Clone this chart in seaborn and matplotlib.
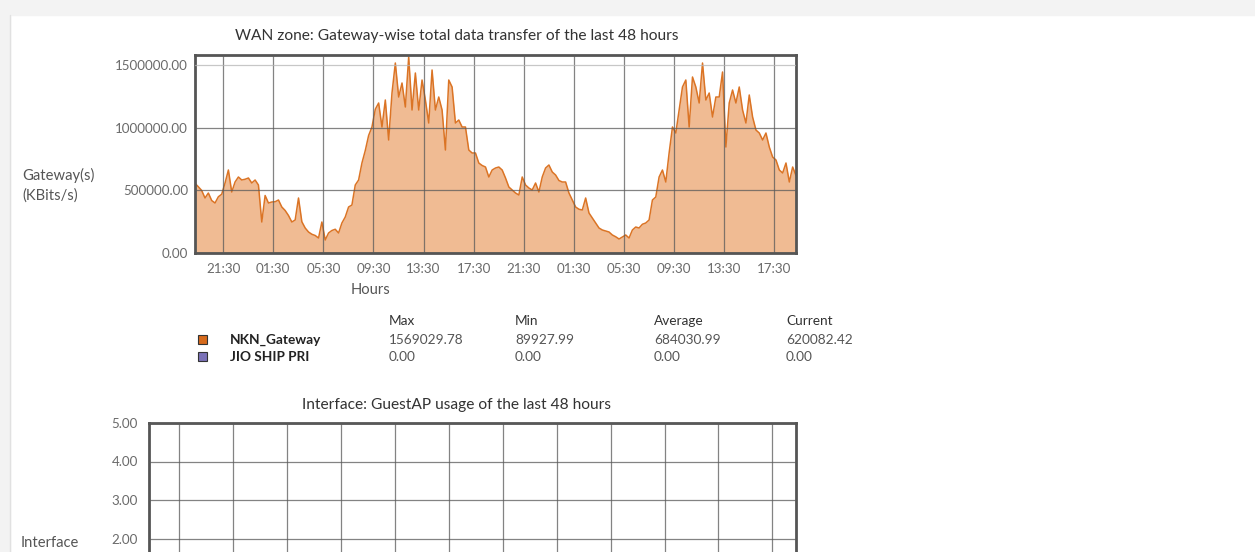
# WAN zone gateway traffic report - recreated with seaborn / matplotlib

import pandas as pd
import numpy as np
import seaborn as sns
from matplotlib import pyplot as plt
from matplotlib.patches import Rectangle
import matplotlib.dates as mdates

# data (KBits/s, in thousands), one sample every 16 minutes
start_time = "2024-01-01 19:15"
sample_freq = "16min"
nkn_kbits = [
    557, 530, 500, 440, 480, 420, 400, 450, 470, 560,
    664, 488, 568, 608, 584, 590, 600, 560, 584, 544,
    248, 460, 400, 408, 410, 424, 368, 340, 300, 248,
    264, 440, 250, 200, 168, 150, 140, 120, 248, 104,
    160, 180, 190, 160, 240, 288, 368, 384, 544, 584,
    720, 820, 940, 1008, 1150, 1200, 1008, 1224, 904, 1280,
    1520, 1248, 1360, 1168, 1568, 1144, 1440, 1144, 1384, 1224,
    1040, 1464, 1144, 1248, 1144, 824, 1384, 1328, 1040, 1064,
    1008, 1008, 824, 800, 800, 720, 700, 688, 608, 664,
    680, 688, 664, 600, 528, 504, 480, 464, 608, 544,
    520, 504, 560, 488, 608, 680, 704, 648, 624, 580,
    568, 568, 480, 424, 368, 350, 344, 440, 320, 280,
    240, 200, 184, 176, 168, 144, 130, 112, 128, 144,
    120, 184, 208, 200, 230, 240, 264, 424, 448, 608,
    664, 568, 800, 1008, 960, 1144, 1328, 1384, 1008, 1408,
    1328, 1200, 1520, 1224, 1280, 1088, 1248, 1248, 1448, 848,
    1200, 1304, 1200, 1328, 1144, 1040, 1264, 1088, 984, 960,
    904, 960, 848, 768, 744, 664, 640, 720, 568, 688,
    620,
]
hour_ticks_start = "2024-01-01 21:30"
n_hour_ticks = 12

wan_yticks = [0, 500000, 1000000, 1500000]
guest_yticks = [2, 3, 4, 5]   # lower ticks fall below the visible page

gateways = ["NKN_Gateway", "JIO SHIP PRI"]
gateway_colors = ["#d66a1c", "#7b72b8"]
stat_names = ["Max", "Min", "Average", "Current"]
stat_values = [
    [1569029.78, 89927.99, 684030.99, 620082.42],
    [0.00, 0.00, 0.00, 0.00],
]

times = pd.date_range(start_time, periods=len(nkn_kbits), freq=sample_freq)
df = pd.DataFrame({"time": times, "kbits": np.array(nkn_kbits) * 1000.0})
tick_times = pd.date_range(hour_ticks_start, periods=n_hour_ticks, freq="4h")

sns.set_style("white")
plt.rcParams["font.family"] = ["Lato", "DejaVu Sans"]

W, H = 1255, 552
fig = plt.figure(figsize=(W / 100, H / 100), dpi=100)
fig.patch.set_facecolor("white")


def px_axes(left, top, right, bottom):
    return fig.add_axes([left / W, 1 - bottom / H, (right - left) / W, (bottom - top) / H])


def fx(x):
    return x / W


def fy(y):
    return 1 - y / H


# page background bits (gray header band and left margin)
fig.patches.append(Rectangle((0, fy(15)), 1, 15 / H, transform=fig.transFigure,
                             color="#f3f3f3", zorder=0))
fig.patches.append(Rectangle((0, 0), fx(10), fy(15), transform=fig.transFigure,
                             color="#f3f3f3", zorder=0))
fig.add_artist(plt.Line2D([fx(10), fx(10)], [0, fy(15)], transform=fig.transFigure,
                          color="#e1e1e1", lw=1))

text_col = "#333333"
label_col = "#555555"
tick_col = "#6a6a6a"
grid_col = "#5a5a5a"
frame_col = "#555555"


def style_axes(ax):
    ax.set_facecolor("white")
    for s in ax.spines.values():
        s.set_visible(True)
        s.set_color(frame_col)
        s.set_linewidth(2)
    ax.grid(True, color=grid_col, lw=0.9, alpha=0.75)
    ax.set_axisbelow(False)
    ax.tick_params(length=0, labelsize=9.6, labelcolor=tick_col)
    ax.set_xlabel("")
    ax.set_ylabel("")


# --- chart 1: WAN zone gateway traffic ---
ax1 = px_axes(195, 55, 796, 253)
ax1.fill_between(df["time"], df["kbits"], color="#f0bb93", lw=0, zorder=1)
sns.lineplot(data=df, x="time", y="kbits", ax=ax1, color="#db7425", lw=1.1, zorder=2)
ax1.set_xlim(times[0], times[-1])
ax1.set_ylim(0, 1584000)
ax1.set_yticks(wan_yticks)
ax1.set_yticklabels([f"{v:.2f}" for v in wan_yticks])
ax1.set_xticks(tick_times)
ax1.xaxis.set_major_formatter(mdates.DateFormatter("%H:%M"))
style_axes(ax1)
ax1.tick_params(axis="y", pad=5)
ax1.tick_params(axis="x", pad=7)
# top gridline is lighter in the report
ax1.get_ygridlines()[-1].set_color("#b5b5b5")

fig.text(fx(457), fy(36), "WAN zone: Gateway-wise total data transfer of the last 48 hours",
         ha="center", va="center", fontsize=11.2, color=text_col)
fig.text(fx(22), fy(175), "Gateway(s)", ha="left", va="center", fontsize=10.6, color=label_col)
fig.text(fx(22), fy(196), "(KBits/s)", ha="left", va="center", fontsize=10.6, color=label_col)
fig.text(fx(371), fy(290), "Hours", ha="center", va="center", fontsize=10.6, color=label_col)

# --- legend / stats table ---
stat_x = [389, 515, 654, 786]
row_y = [340, 357]
for sx, name in zip(stat_x, stat_names):
    fig.text(fx(sx), fy(321), name, ha="left", va="center", fontsize=9.8, color=text_col)
for ry, name, col, vals in zip(row_y, gateways, gateway_colors, stat_values):
    fig.patches.append(Rectangle((fx(198), fy(ry + 4)), 9 / W, 9 / H, transform=fig.transFigure,
                                 facecolor=col, edgecolor="#333333", lw=0.8))
    fig.text(fx(230), fy(ry), name, ha="left", va="center", fontsize=9.8,
             color="#222222", fontweight="bold")
    for sx, v in zip(stat_x, vals):
        fig.text(fx(sx), fy(ry), f"{v:.2f}", ha="left", va="center", fontsize=9.8, color=label_col)

# --- chart 2: GuestAP interface usage (cut off by the page) ---
ax2 = px_axes(149, 423, 796, 615.5)
ax2.set_xlim(times[0], times[-1])
ax2.set_ylim(0, 5)
ax2.set_yticks(guest_yticks)
ax2.set_yticklabels([f"{v:.2f}" for v in guest_yticks])
ax2.set_xticks(tick_times)
ax2.set_xticklabels([])
style_axes(ax2)
ax2.tick_params(axis="y", pad=8)

fig.text(fx(457), fy(405), "Interface: GuestAP usage of the last 48 hours",
         ha="center", va="center", fontsize=11.2, color=text_col)
fig.text(fx(21), fy(543), "Interface", ha="left", va="center", fontsize=10.6, color=label_col)

fig.savefig("out.png", dpi=100)
